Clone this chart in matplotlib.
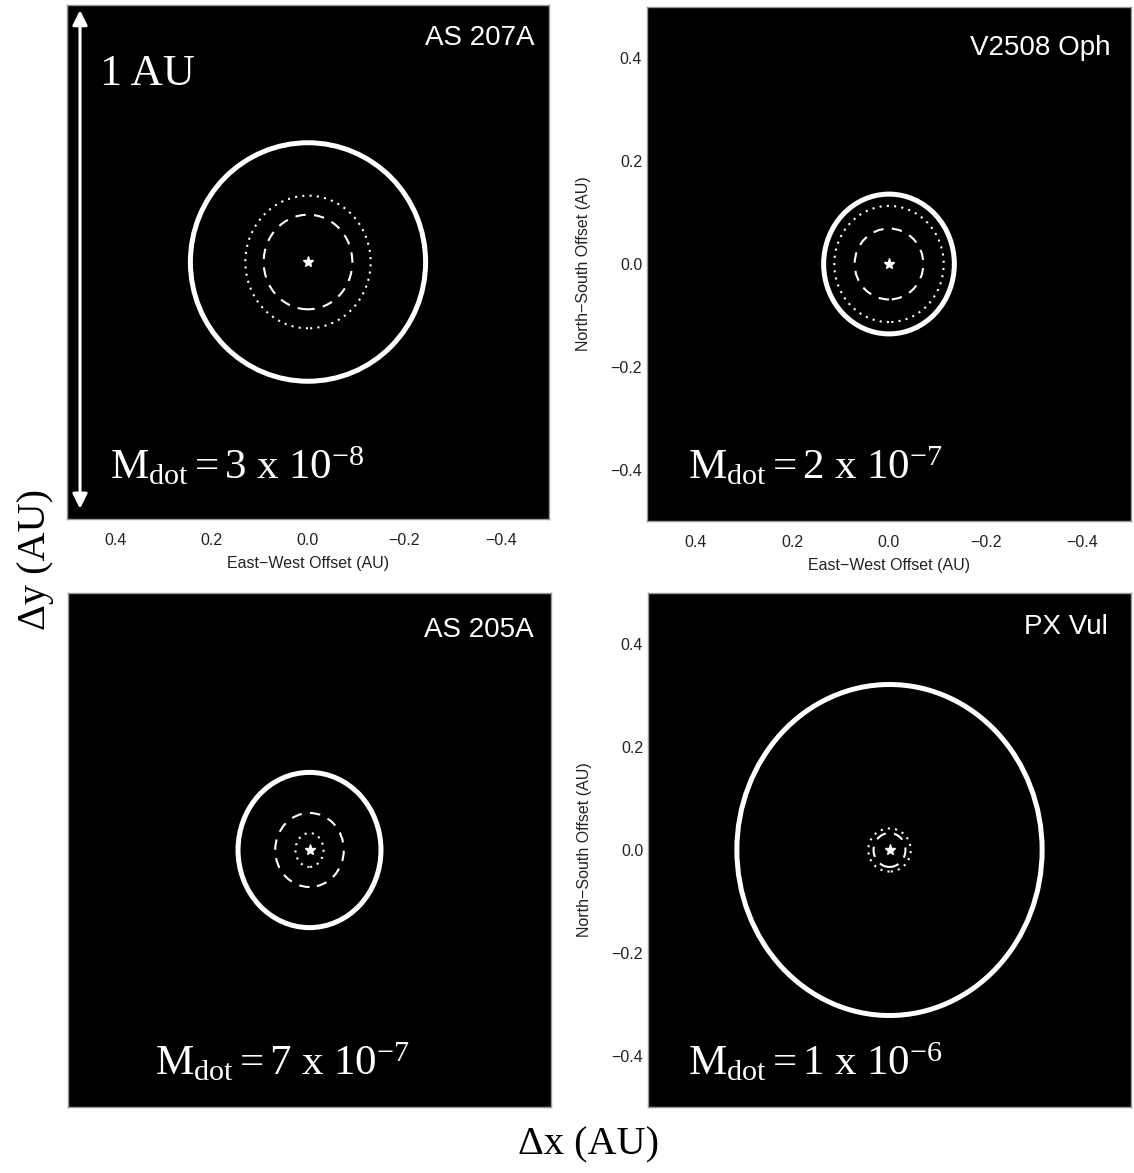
import matplotlib.pyplot as plt
from matplotlib.patches import Ellipse

plt.rcParams['mathtext.fontset'] = 'custom'
plt.rcParams['mathtext.rm'] = 'Liberation Serif'
plt.rcParams['mathtext.it'] = 'Liberation Serif:italic'

# --- data (AU) ---
targets = ['AS 207A', 'V2508 Oph', 'AS 205A', 'PX Vul']
mdot_coef = [3, 2, 7, 1]
mdot_exp = [-8, -7, -7, -6]

# ring half-axes (x, y) in AU
solid_rx = [0.244, 0.135, 0.148, 0.316]
solid_ry = [0.232, 0.136, 0.151, 0.322]
dotted_rx = [0.130, 0.113, 0.029, 0.044]
dotted_ry = [0.129, 0.113, 0.033, 0.042]
dashed_rx = [0.092, 0.071, 0.071, 0.033]
dashed_ry = [0.092, 0.069, 0.072, 0.033]

ticks = [0.4, 0.2, 0.0, -0.2, -0.4]
tick_labels = ['0.4', '0.2', '0.0', '\u22120.2', '\u22120.4']

W, H = 1134, 1173
fig = plt.figure(figsize=(W / 100, H / 100), dpi=100)

# panel boxes in pixels: left, top, right, bottom
boxes = [(67, 5, 549, 519), (647, 7, 1131, 521),
         (68, 593, 551, 1107), (648, 593, 1131, 1107)]
title_pos = [(0.969, 0.936), (0.957, 0.920), (0.963, 0.928), (0.952, 0.934)]
mdot_pos = [(0.089, 0.078), (0.085, 0.082), (0.180, 0.062), (0.083, 0.062)]

tick_font = dict(family='Liberation Sans', size=11.5, color='#222222')

axes = []
for i, (l, t, r, b) in enumerate(boxes):
    ax = fig.add_axes([l / W, 1 - b / H, (r - l) / W, (b - t) / H])
    ax.set_facecolor('black')
    ax.set_xlim(0.5, -0.5)
    ax.set_ylim(-0.5, 0.5)
    for s in ax.spines.values():
        s.set_color('#999999')
        s.set_linewidth(1)

    ax.add_patch(Ellipse((0, 0), 2 * solid_rx[i], 2 * solid_ry[i], fill=False,
                         ec='white', lw=3.6))
    ax.add_patch(Ellipse((0, 0), 2 * dotted_rx[i], 2 * dotted_ry[i], fill=False,
                         ec='white', lw=1.5, ls=(0, (1, 2.5))))
    ax.add_patch(Ellipse((0, 0), 2 * dashed_rx[i], 2 * dashed_ry[i], fill=False,
                         ec='white', lw=1.5, ls=(0, (5, 4))))
    ax.plot([0], [0], marker='*', color='white', ms=8, mec='white')

    ax.text(*title_pos[i], targets[i], transform=ax.transAxes, ha='right',
            va='center', color='white', family='Liberation Sans', fontsize=20)
    ax.text(*mdot_pos[i],
            r'$\mathrm{M_{dot} = %d\ x\ 10^{%d}}$' % (mdot_coef[i], mdot_exp[i]),
            transform=ax.transAxes, ha='left', va='baseline', color='white',
            fontsize=31)

    ax.tick_params(length=0)
    if i < 2:
        ax.set_xticks(ticks)
        ax.set_xticklabels(tick_labels, **tick_font)
        ax.tick_params(axis='x', pad=10)
        ax.text(0.5, -0.0875, 'East\u2212West Offset (AU)', transform=ax.transAxes,
                ha='center', va='center', **tick_font)
    else:
        ax.set_xticks([])
    if i % 2 == 1:
        ax.set_yticks(ticks)
        ax.set_yticklabels(tick_labels, **tick_font)
        ax.tick_params(axis='y', pad=3.5)
        ax.text(-0.132, 0.5, 'North\u2212South Offset (AU)', transform=ax.transAxes,
                rotation=90, ha='center', va='center', **tick_font)
    else:
        ax.set_yticks([])
    axes.append(ax)

# 1 AU scale bar in the first panel
ax0 = axes[0]
ax0.annotate('', xy=(0.473, 0.49), xytext=(0.473, -0.48),
             arrowprops=dict(arrowstyle='<|-|>', color='white', lw=2.2,
                             mutation_scale=22, shrinkA=0, shrinkB=0))
ax0.text(0.068, 0.844, '1 AU', transform=ax0.transAxes, ha='left', va='baseline',
         color='white', family='Liberation Serif', fontsize=32)

fig.text(36 / W, 1 - 560 / H, '\u0394y (AU)', rotation=90, ha='center', va='center',
         family='Liberation Serif', fontsize=29)
fig.text(588 / W, 1 - 1145 / H, '\u0394x (AU)', ha='center', va='center',
         family='Liberation Serif', fontsize=29)

fig.savefig('out.png', dpi=100, facecolor='white')
